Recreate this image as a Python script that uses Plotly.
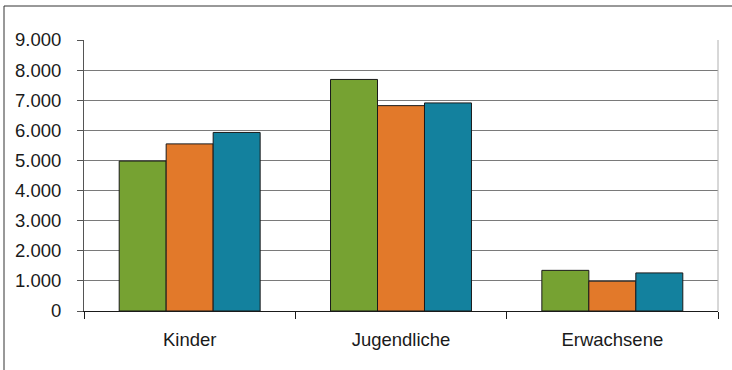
import plotly.graph_objects as go

categories = ["Kinder", "Jugendliche", "Erwachsene"]
series_a = [4980, 7690, 1350]
series_b = [5550, 6820, 990]
series_c = [5930, 6910, 1265]
colors = ["#76A232", "#E2792A", "#13819E"]
y_ticks = [0, 1000, 2000, 3000, 4000, 5000, 6000, 7000, 8000, 9000]

fig = go.Figure()
for vals, col in zip([series_a, series_b, series_c], colors):
    fig.add_trace(go.Bar(x=categories, y=vals, marker=dict(color=col, line=dict(color="#1a1a1a", width=1)),
                         showlegend=False))

W, H = 732, 370
L, R, T, B = 84, 14, 40, 59
fig.update_layout(
    width=W, height=H, margin=dict(l=L, r=R, t=T, b=B),
    paper_bgcolor="white", plot_bgcolor="white",
    barmode="group", bargap=0.333, bargroupgap=0,
    separators=",.",
    font=dict(family="Liberation Sans, Arial, sans-serif", size=18.5, color="#1a1a1a"),
    xaxis=dict(type="category", tickson="boundaries", ticks="outside", ticklen=7, tickcolor="#1a1a1a",
               showgrid=False, showline=True, linecolor="#1a1a1a", linewidth=1,
               ticklabelstandoff=12),
    yaxis=dict(range=[0, 9000], tickvals=y_ticks, tickformat=",d", ticks="outside", ticklen=6,
               tickcolor="#555555", showgrid=True, gridcolor="#7a7a7a", gridwidth=1.2,
               showline=True, linecolor="#555555", linewidth=1, zeroline=False,
               ticklabelstandoff=12),
    shapes=[
        dict(type="line", xref="paper", yref="paper", x0=1, x1=1, y0=0, y1=1,
             line=dict(color="#b0b0b0", width=1)),
        dict(type="line", xref="paper", yref="paper",
             x0=(4 - L) / (W - L - R), x1=(W + 5 - L) / (W - L - R),
             y0=1 + (T - 6) / (H - T - B), y1=1 + (T - 6) / (H - T - B),
             line=dict(color="#333333", width=1)),
        dict(type="line", xref="paper", yref="paper",
             x0=(4 - L) / (W - L - R), x1=(4 - L) / (W - L - R),
             y0=1 + (T - 6) / (H - T - B), y1=-(B + 5) / (H - T - B),
             line=dict(color="#333333", width=1)),
    ],
)
fig.write_html("out.html")
